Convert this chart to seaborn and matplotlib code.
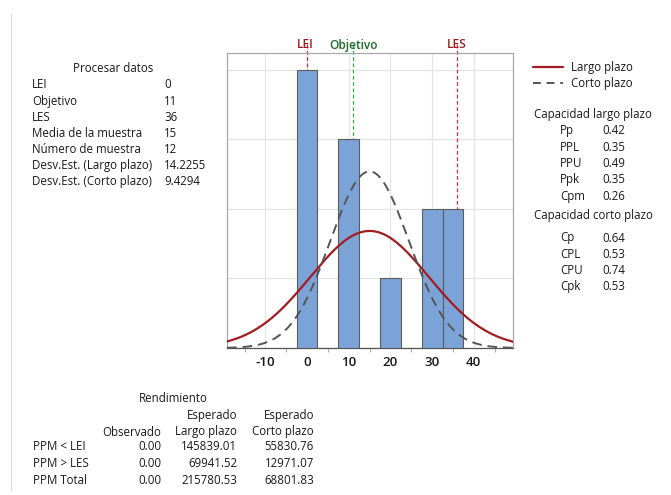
import numpy as np
import pandas as pd
import matplotlib.pyplot as plt
import seaborn as sns
from matplotlib.lines import Line2D

# sample values (bin width 5)
sample_values = [0, 0, 0, 0, 10, 10, 10, 20, 30, 30, 35, 35]
bin_edges = [-2.5, 2.5, 7.5, 12.5, 17.5, 22.5, 27.5, 32.5, 37.5]

# spec limits
lei = 0
objetivo = 11
les = 36
media = 15
n_muestra = 12
sd_largo = 14.2255
sd_corto = 9.4294

# text tables
proc_labels = ["LEI", "Objetivo", "LES", "Media de la muestra", "Número de muestra",
               "Desv.Est. (Largo plazo)", "Desv.Est. (Corto plazo)"]
proc_values = ["0", "11", "36", "15", "12", "14.2255", "9.4294"]

cap_largo_labels = ["Pp", "PPL", "PPU", "Ppk", "Cpm"]
cap_largo_values = ["0.42", "0.35", "0.49", "0.35", "0.26"]
cap_corto_labels = ["Cp", "CPL", "CPU", "Cpk"]
cap_corto_values = ["0.64", "0.53", "0.74", "0.53"]

rend_rows = ["PPM < LEI", "PPM > LES", "PPM Total"]
rend_obs = ["0.00", "0.00", "0.00"]
rend_largo = ["145839.01", "69941.52", "215780.53"]
rend_corto = ["55830.76", "12971.07", "68801.83"]

xticks = [-10, 0, 10, 20, 30, 40]

sns.set_style("whitegrid")
plt.rcParams['font.family'] = ['Open Sans', 'DejaVu Sans']
fs = 8.3
txt_col = "#1a1a1a"

W, H = 671, 495
fig = plt.figure(figsize=(W / 100, H / 100), dpi=100)

def fx(x):
    return x / W

def fy(y):
    return 1 - y / H

def put(x, y, s, ha="left", **kw):
    fig.text(fx(x), fy(y), s, fontsize=kw.pop("fontsize", fs), color=kw.pop("color", txt_col),
             ha=ha, va="center", **kw)

ax = fig.add_axes([fx(227), fy(348), fx(513) - fx(227), fy(53) - fy(348)])

# histogram
sns.histplot(x=sample_values, bins=bin_edges, color="#7BA3D7", edgecolor="#5c5c5c",
             linewidth=0.8, alpha=1, ax=ax, zorder=3)

# normal curves scaled to counts
xs = np.linspace(-19.2, 49.4, 400)
scale = n_muestra * 5
df_curve = pd.DataFrame({
    "x": xs,
    "largo": scale * np.exp(-0.5 * ((xs - media) / sd_largo) ** 2) / (sd_largo * np.sqrt(2 * np.pi)),
    "corto": scale * np.exp(-0.5 * ((xs - media) / sd_corto) ** 2) / (sd_corto * np.sqrt(2 * np.pi)),
})
sns.lineplot(data=df_curve, x="x", y="largo", color="#A11D21", linewidth=1.6, ax=ax, zorder=5)
sns.lineplot(data=df_curve, x="x", y="corto", color="#555555", linewidth=1.4,
             linestyle=(0, (5, 3)), ax=ax, zorder=5)

# spec lines
for xv, col in [(lei, "#C8343A"), (objetivo, "#3DAE4F"), (les, "#C8343A")]:
    ax.axvline(xv, ymin=0, ymax=1.03, color=col, linestyle=(0, (3, 2)), linewidth=0.9,
               zorder=2, clip_on=False)
put(305, 45, "LEI", ha="center", color="#9B1B1E", fontsize=8.6, fontweight="semibold")
put(353, 45, "Objetivo", ha="center", color="#1E6B2A", fontsize=8.6, fontweight="semibold")
put(457, 45, "LES", ha="center", color="#9B1B1E", fontsize=8.6, fontweight="semibold")

ax.set_xlim(-19.2, 49.4)
ax.set_ylim(0, 4.24)
ax.set_xticks(xticks)
ax.set_xticklabels([str(t) for t in xticks], fontsize=9.5, color=txt_col, fontweight="semibold")
ax.set_xticks([-15, -5, 5, 15, 25, 35, 45], minor=True)
ax.set_yticks([1, 2, 3, 4])
ax.set_yticklabels([])
ax.tick_params(axis="x", which="major", length=0, pad=6)
ax.tick_params(axis="x", which="minor", length=3, color="#999999", bottom=True)
ax.tick_params(axis="y", length=0)
ax.set_xlabel("")
ax.set_ylabel("")
ax.grid(True, which="major", color="#e4e4e4", linewidth=0.9)
ax.set_axisbelow(True)
for s in ax.spines.values():
    s.set_color("#a8a8a8")
    s.set_linewidth(0.9)
ax.spines["bottom"].set_color("#555555")

# left thin border line
fig.add_artist(Line2D([fx(11), fx(11)], [fy(14), fy(490)], color="#dcdcdc", linewidth=0.8))

# process data block
put(113, 68, "Procesar datos", ha="center")
for i, (lab, val) in enumerate(zip(proc_labels, proc_values)):
    y = 85 + i * 16.1
    put(32, y, lab)
    put(164, y, val)

# legend
fig.add_artist(Line2D([fx(533), fx(563)], [fy(67), fy(67)], color="#A11D21", linewidth=1.6))
fig.add_artist(Line2D([fx(533), fx(563)], [fy(83), fy(83)], color="#555555", linewidth=1.4,
                      linestyle=(0, (4, 3))))
put(571, 67, "Largo plazo")
put(571, 83, "Corto plazo")

# capability blocks
put(593, 115, "Capacidad largo plazo", ha="center")
for i, (lab, val) in enumerate(zip(cap_largo_labels, cap_largo_values)):
    y = 131 + i * 16.3
    put(560, y, lab)
    put(602, y, val)
put(593, 216, "Capacidad corto plazo", ha="center")
for i, (lab, val) in enumerate(zip(cap_corto_labels, cap_corto_values)):
    y = 238 + i * 16.1
    put(560, y, lab)
    put(602, y, val)

# yield table
put(173, 398, "Rendimiento", ha="center")
put(237, 415, "Esperado", ha="right")
put(314, 415, "Esperado", ha="right")
put(161, 432, "Observado", ha="right")
put(237, 432, "Largo plazo", ha="right")
put(314, 432, "Corto plazo", ha="right")
for i, row in enumerate(rend_rows):
    y = 447 + i * 16.5
    put(33, y, row)
    put(161, y, rend_obs[i], ha="right")
    put(237, y, rend_largo[i], ha="right")
    put(314, y, rend_corto[i], ha="right")

fig.savefig("out.png", dpi=100)
